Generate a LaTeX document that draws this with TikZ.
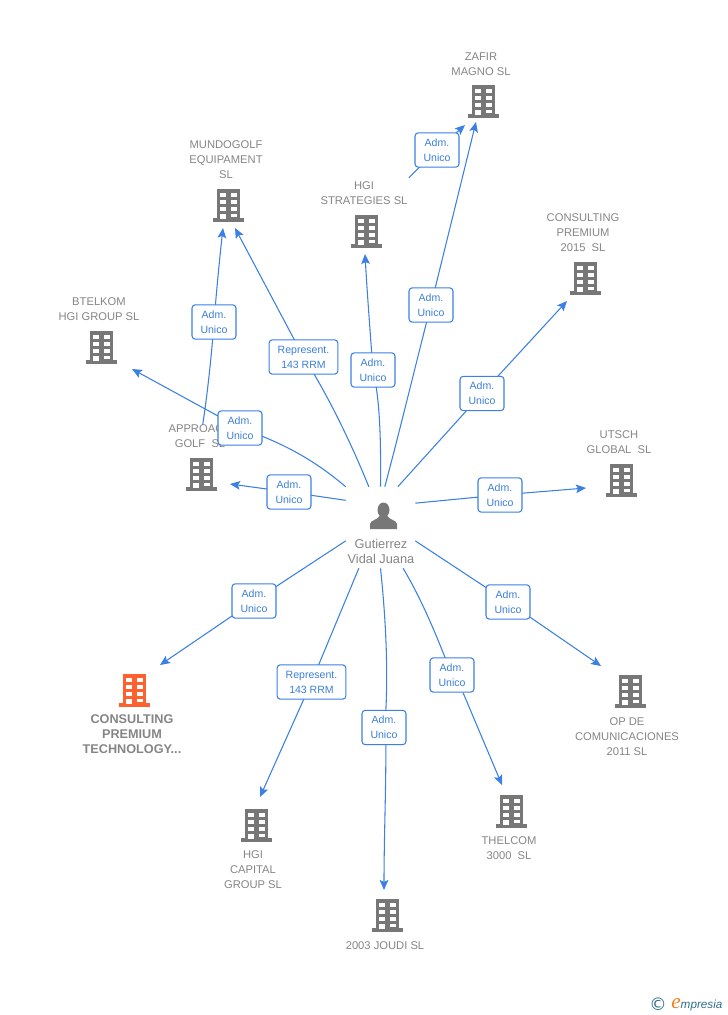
\documentclass[tikz,border=0pt]{standalone}
\usepackage{fontspec}
\setmainfont{Liberation Sans}
\newfontfamily\logofont{Liberation Serif}
\newfontfamily\copyfont{DejaVu Sans}
\usetikzlibrary{positioning}
\usetikzlibrary{arrows.meta}
\usetikzlibrary{backgrounds}
\definecolor{linkblue}{HTML}{3B80E2}
\definecolor{boxtext}{HTML}{3A7FD8}
\definecolor{iconblue}{HTML}{777777}
\definecolor{namegray}{HTML}{858585}
\definecolor{redicon}{HTML}{FF6030}
\definecolor{logoblue}{HTML}{2F6F8F}
\definecolor{logoe}{HTML}{F08020}
\tikzset{
    mybox/.style = {rectangle, rounded corners=2.5pt, draw=linkblue, line width=0.8pt, fill=white, text=boxtext, align=center, minimum width=33pt, minimum height=25.8pt, inner sep=0pt, font=\fontsize{7.9}{11.3}\selectfont},
    repbox/.style = {mybox, minimum width=51.6pt},
    myname/.style = {align=center, text=namegray, inner sep=0pt, font=\fontsize{8.4}{11.25}\selectfont},
    mynameb/.style = {myname, font=\fontsize{9.5}{11.25}\selectfont\bfseries},
    myhub/.style = {align=center, text=namegray, inner sep=0pt, font=\fontsize{9.6}{11.25}\selectfont},
    edgeb/.style = {line width=0.8pt, linkblue},
    edgea/.style = {edgeb, -{Stealth[length=7.5pt,width=6.5pt,inset=1.5pt]}},
    tower/.style = {rectangle, minimum width=24pt, minimum height=25.5pt, inner sep=0pt, path picture={
      \begin{scope}[shift={(path picture bounding box.center)}]
        \fill[#1] (-11.5,-16.5) rectangle (11.5,14);
        \fill[#1] (-15.5,13) rectangle (15.5,16.5);
        \foreach \wy in {-12.5,-5.5,1.5} {
          \fill[white] (-8.5,\wy) rectangle (-2.5,\wy+4);
          \fill[white] (2.5,\wy) rectangle (8.5,\wy+4);
        }
        \fill[white] (-8.5,8.5) rectangle (-2.5,14);
        \fill[white] (2.5,8.5) rectangle (8.5,12);
      \end{scope}}},
    usericon/.style = {rectangle, minimum width=24pt, minimum height=24pt, inner sep=0pt, path picture={
      \begin{scope}[shift={(path picture bounding box.center)}]
        \fill[#1] (0,-6) ellipse [x radius=6, y radius=7.5];
        \fill[#1] (-13.5,13) -- (-13.5,8) .. controls (-13,4) and (-6,4) .. (-4,0)
          -- (4,0) .. controls (6,4) and (13,4) .. (13.5,8) -- (13.5,13) -- cycle;
      \end{scope}}}
}
\begin{document}
\begin{tikzpicture}[x=0.75pt,y=-0.75pt]
  \useasboundingbox (0,0) rectangle (728,1015);

  % centre
  \node[minimum width=51.75pt, minimum height=60.75pt, inner sep=0pt] (hub) at (380.5,527.5) {};
  \node[usericon=iconblue] (person) at (383.5,516) {};
  \node[myhub] (personname) at (381,551.5) {Gutierrez\\Vidal Juana};

  % buildings
  \node[tower=iconblue] (zafir) at (483,101) {};
  \node[tower=iconblue] (mundogolf) at (228,205) {};
  \node[tower=iconblue] (strategies) at (366,231) {};
  \node[tower=iconblue] (premium) at (585,278) {};
  \node[tower=iconblue] (btelkom) at (101,347) {};
  \node[tower=iconblue] (approach) at (201,474) {};
  \node[tower=iconblue] (utsch) at (621,480) {};
  \node[tower=redicon] (technology) at (134,690) {};
  \node[tower=iconblue] (opde) at (630,691) {};
  \node[tower=iconblue] (thelcom) at (511,811) {};
  \node[tower=iconblue] (capital) at (256,825) {};
  \node[tower=iconblue] (joudi) at (387,915) {};

  \node[myname] (zafirname) at (481,64.5) {ZAFIR\\MAGNO SL};
  \node[myname] (mundogolfname) at (226,160) {MUNDOGOLF\\EQUIPAMENT\\SL};
  \node[myname] (strategiesname) at (364,193.5) {HGI\\STRATEGIES SL};
  \node[myname] (premiumname) at (583,233) {CONSULTING\\PREMIUM\\2015~~SL};
  \node[myname] (btelkomname) at (99,309.5) {BTELKOM\\HGI GROUP SL};
  \node[myname] (approachname) at (200,436.5) {APPROACH\\GOLF~~SL};
  \node[myname] (utschname) at (619,442.5) {UTSCH\\GLOBAL~~SL};
  \node[mynameb] (technologyname) at (132,734) {CONSULTING\\PREMIUM\\TECHNOLOGY...};
  \node[myname] (opdename) at (627,737) {OP DE\\COMUNICACIONES\\2011 SL};
  \node[myname] (thelcomname) at (509,848.5) {THELCOM\\3000~~SL};
  \node[myname] (capitalname) at (253,870) {HGI\\CAPITAL\\GROUP SL};
  \node[myname] (joudiname) at (385,946) {2003 JOUDI SL};

  % role boxes
  \node[mybox] (r1) at (437,150) {Adm.\\Unico};
  \node[mybox] (r2) at (214,322) {Adm.\\Unico};
  \node[repbox] (r3) at (303.5,357) {Represent.\\143 RRM};
  \node[mybox] (r4) at (373,370) {Adm.\\Unico};
  \node[mybox] (r5) at (431,305) {Adm.\\Unico};
  \node[mybox] (r6) at (482,393.5) {Adm.\\Unico};
  \node[mybox] (r7) at (240,428) {Adm.\\Unico};
  \node[mybox] (r8) at (289,492) {Adm.\\Unico};
  \node[mybox] (r9) at (500,495) {Adm.\\Unico};
  \node[mybox] (r10) at (254,601) {Adm.\\Unico};
  \node[mybox] (r11) at (508,602) {Adm.\\Unico};
  \node[repbox] (r12) at (311.5,682) {Represent.\\143 RRM};
  \node[mybox] (r13) at (452,675) {Adm.\\Unico};
  \node[mybox] (r14) at (384,727.5) {Adm.\\Unico};

  % arrow ends
  \coordinate (zafir-a) at (465,125);
  \coordinate (zafir-b) at (476,122);
  \coordinate (mundogolf-a) at (223,228);
  \coordinate (mundogolf-b) at (235,228);
  \coordinate (strategies-a) at (365,254);
  \coordinate (premium-a) at (567,301);
  \coordinate (btelkom-a) at (132,369);
  \coordinate (approach-a) at (230,484);
  \coordinate (utsch-a) at (586,488);
  \coordinate (technology-a) at (160,665);
  \coordinate (opde-a) at (601,666);
  \coordinate (thelcom-a) at (502,785);
  \coordinate (capital-a) at (260,797);
  \coordinate (joudi-a) at (384,890);

  \begin{scope}[on background layer]
    \draw[edgeb] ([xshift=0.8pt,yshift=3pt]strategiesname.north east) -- (r1.center);
    \draw[edgea] (r1.center) -- (zafir-a);
    \draw[edgeb] (hub.84) .. controls (400,430) and (418,355) .. (r5.center);
    \draw[edgea] (r5.center) -- (zafir-b);
    \draw[edgeb] (approachname.77) .. controls (208,390) and (212,350) .. (r2.center);
    \draw[edgea] (r2.center) .. controls (217,285) and (220,255) .. (mundogolf-a);
    \draw[edgeb] (hub.106) .. controls (350,440) and (325,390) .. (r3.center);
    \draw[edgea] (r3.center) -- (mundogolf-b);
    \draw[edgeb] (hub.north) .. controls (381,440) and (380,400) .. (r4.center);
    \draw[edgea] (r4.center) .. controls (370,330) and (367,290) .. (strategies-a);
    \draw[edgeb] (hub.67) -- (r6.center);
    \draw[edgea] (r6.center) -- (premium-a);
    \draw[edgeb] (hub.north west) .. controls (320,465) and (290,445) .. (r7.center);
    \draw[edgea] (r7.center) -- (btelkom-a);
    \draw[edgeb] (hub.142) -- (r8.center);
    \draw[edgea] (r8.center) -- (approach-a);
    \draw[edgeb] (hub.35) -- (r9.center);
    \draw[edgea] (r9.center) -- (utsch-a);
    \draw[edgeb] (hub.201) -- (r10.center);
    \draw[edgea] (r10.center) -- (technology-a);
    \draw[edgeb] (hub.-21) -- (r11.center);
    \draw[edgea] (r11.center) -- (opde-a);
    \draw[edgeb] (hub.-118) -- (r12.center);
    \draw[edgea] (r12.center) -- (capital-a);
    \draw[edgeb] (hub.-61) .. controls (425,605) and (440,645) .. (r13.center);
    \draw[edgea] (r13.-58) -- (thelcom-a);
    \draw[edgeb] (hub.south) .. controls (386,620) and (388,670) .. (r14.84);
    \draw[edgea] (r14.-84) .. controls (386,790) and (384,840) .. (joudi-a);
  \end{scope}

  % logo
  \node[inner sep=0pt, text=logoblue, font=\copyfont\fontsize{13}{14}\selectfont] (copyr) at (658,1004) {©};
  \node[inner sep=0pt, anchor=base west, text=logoblue, font=\fontsize{8.8}{12}\selectfont\itshape] (logo) at (671,1008) {\textcolor{logoe}{\logofont\fontsize{16}{12}\selectfont e}mpresia};
\end{tikzpicture}
\end{document}
